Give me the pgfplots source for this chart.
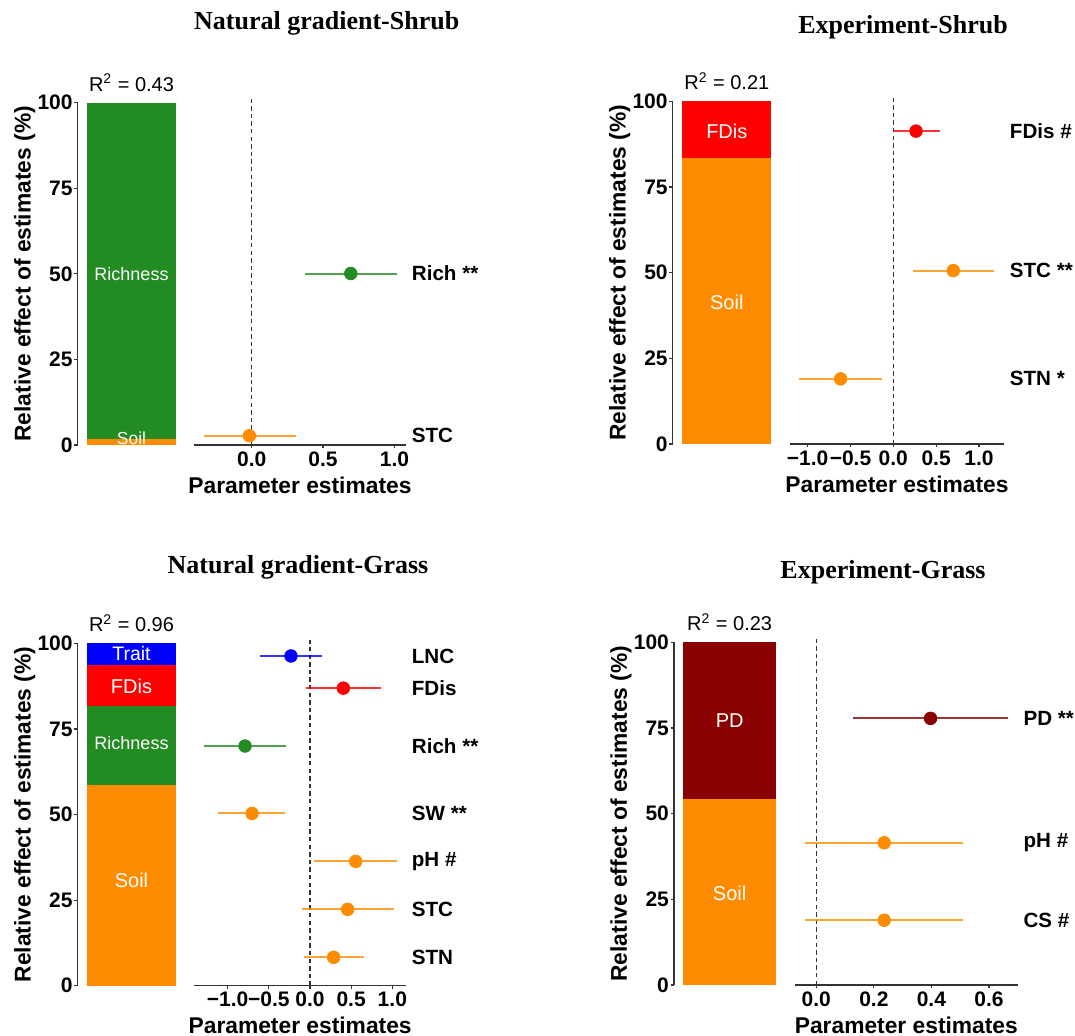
\documentclass[border=0pt]{standalone}
\usepackage{pgfplots}
\pgfplotsset{compat=1.18}
\usepackage{fontspec}
\setmainfont{Liberation Sans}
\newfontfamily\tnr{Liberation Serif}
\definecolor{cgreen}{HTML}{228B22}
\definecolor{corange}{HTML}{FF8C00}
\definecolor{cred}{HTML}{FF0000}
\definecolor{cblue}{HTML}{0000FF}
\definecolor{cdred}{HTML}{8B0000}
\definecolor{axc}{HTML}{333333}
\tikzset{
  inlab/.style={white, font=\fontsize{#1}{11}\selectfont},
  rsq/.style={font=\fontsize{10}{12}\selectfont, yshift=10pt},
}
\pgfplotsset{
  baraxis/.style={scale only axis, axis y line*=left, axis x line=none,
    xmin=0, xmax=1, ymin=0, ymax=100, ytick={0,25,50,75,100},
    yticklabels={0,25,50,75,100}, tick align=outside, major tick length=1.75pt,
    y axis line style={axc, line width=0.6pt}, tick style={axc, line width=0.6pt},
    yticklabel style={font=\bfseries\fontsize{10.5}{12}\selectfont, inner sep=0pt, xshift=-0.6pt},
    ybar stacked, clip=false,
    ylabel={Relative effect of estimates (\%)},
    ylabel style={font=\bfseries\fontsize{11.4}{13}\selectfont, at={(axis description cs:0,0.5)}, anchor=center, yshift=26.5pt}},
  forest/.style={scale only axis, ymin=0, ymax=100,
    axis x line*=bottom, axis y line*=right, y axis line style={draw=none},
    x axis line style={axc, line width=0.6pt}, tick align=outside, major tick length=1.5pt,
    tick style={axc, line width=0.6pt}, y tick style={draw=none},
    xticklabel style={font=\bfseries\fontsize{10.5}{12}\selectfont, inner sep=0pt, yshift=-1.5pt},
    yticklabel style={font=\bfseries\fontsize{10.3}{12}\selectfont, anchor=west, inner sep=0pt, xshift=1.25pt},
    xlabel={Parameter estimates},
    xlabel style={font=\bfseries\fontsize{11.4}{13}\selectfont, at={(axis description cs:0.5,0)}, anchor=center, yshift=-20pt},
    clip=false},
  pt/.style={only marks, mark=*, mark size=3.15pt, color=#1, mark options={fill=#1, draw=#1},
    error bars/.cd, x dir=both, x explicit, error mark=none,
    error bar style={line width=1pt, color=#1, opacity=0.8}},
  zero/.style={axc, line width=0.6pt, dash pattern=on 2.2pt off 1.6pt},
}
\begin{document}
\begin{tikzpicture}
\useasboundingbox (0,0) rectangle (537.5pt,-518pt);
% titles
\node[anchor=base, font=\tnr\bfseries\fontsize{13}{15}\selectfont] at (163.35pt,-14.65pt) {Natural gradient-Shrub};
\node[anchor=base, font=\tnr\bfseries\fontsize{13}{15}\selectfont] at (451.5pt,-16.65pt) {Experiment-Shrub};
\node[anchor=base, font=\tnr\bfseries\fontsize{13}{15}\selectfont] at (149pt,-286.65pt) {Natural gradient-Grass};
\node[anchor=base, font=\tnr\bfseries\fontsize{13}{15}\selectfont] at (441.5pt,-289.15pt) {Experiment-Grass};

% ===== Panel 1 =====
\begin{axis}[baraxis, at={(38.85pt,-222.5pt)}, anchor=south west, width=53.8pt, height=171.15pt, bar width=0.827,
  after end axis/.code={
    \node[inlab=9] at (axis cs:0.5,50) {Richness};
    \node[inlab=8.7] at (axis cs:0.5,1.9) {Soil};
    \node[rsq] at (axis cs:0.5,100) {R\textsuperscript{2} = 0.43};}]
\addplot[fill=corange, draw=none] coordinates {(0.5,1.75)};
\addplot[fill=cgreen, draw=none] coordinates {(0.5,98.25)};
\end{axis}
\begin{axis}[forest, at={(97pt,-222.5pt)}, anchor=south west, width=106pt, height=171.15pt,
  xmin=-0.404, xmax=1.081, xtick={0,0.5,1}, xticklabels={0.0,0.5,1.0},
  ytick={2.7,50.1}, yticklabels={STC,Rich **}]
\addplot[zero] coordinates {(0,0) (0,101)};
\addplot[pt=corange] coordinates {(-0.016,2.7) -= (0.318,0) += (0.324,0)};
\addplot[pt=cgreen] coordinates {(0.694,50.1) -= (0.323,0) += (0.322,0)};
\end{axis}

% ===== Panel 2 =====
\begin{axis}[baraxis, at={(336.35pt,-222pt)}, anchor=south west, width=54.1pt, height=171.35pt, bar width=0.823,
  after end axis/.code={
    \node[inlab=10] at (axis cs:0.5,91.3) {FDis};
    \node[inlab=10] at (axis cs:0.5,41.3) {Soil};
    \node[rsq] at (axis cs:0.5,100) {R\textsuperscript{2} = 0.21};}]
\addplot[fill=corange, draw=none] coordinates {(0.5,83.4)};
\addplot[fill=cred, draw=none] coordinates {(0.5,16.6)};
\end{axis}
\begin{axis}[forest, at={(395pt,-222pt)}, anchor=south west, width=107pt, height=171.35pt,
  xmin=-1.206, xmax=1.292, xtick={-1,-0.5,0,0.5,1}, xticklabels={−1.0,−0.5,0.0,0.5,1.0},
  ytick={19.0,50.6,91.3}, yticklabels={STN *,STC **,FDis \#}]
\addplot[zero] coordinates {(0,0) (0,101)};
\addplot[pt=cred] coordinates {(0.265,91.3) -= (0.273,0) += (0.280,0)};
\addplot[pt=corange] coordinates {(0.70,50.6) -= (0.467,0) += (0.479,0)};
\addplot[pt=corange] coordinates {(-0.615,19.0) -= (0.482,0) += (0.479,0)};
\end{axis}

% ===== Panel 3 =====
\begin{axis}[baraxis, at={(38.85pt,-492.85pt)}, anchor=south west, width=53.8pt, height=171.2pt, bar width=0.827,
  after end axis/.code={
    \node[inlab=9.75] at (axis cs:0.5,96.9) {Trait};
    \node[inlab=10] at (axis cs:0.5,87.5) {FDis};
    \node[inlab=9] at (axis cs:0.5,70.8) {Richness};
    \node[inlab=10] at (axis cs:0.5,30.7) {Soil};
    \node[rsq] at (axis cs:0.5,100) {R\textsuperscript{2} = 0.96};}]
\addplot[fill=corange, draw=none] coordinates {(0.5,58.6)};
\addplot[fill=cgreen, draw=none] coordinates {(0.5,23.2)};
\addplot[fill=cred, draw=none] coordinates {(0.5,11.8)};
\addplot[fill=cblue, draw=none] coordinates {(0.5,6.4)};
\end{axis}
\begin{axis}[forest, at={(97.15pt,-492.85pt)}, anchor=south west, width=105.85pt, height=171.2pt,
  xmin=-1.405, xmax=1.166, xtick={-1,-0.5,0,0.5,1}, xticklabels={−1.0,−0.5,0.0,0.5,1.0},
  ytick={8.3,22.3,36.3,50.3,70.0,86.9,96.3}, yticklabels={STN,STC,pH \#,SW **,Rich **,FDis,LNC}]
\addplot[zero] coordinates {(0,0) (0,101)};
\addplot[pt=cblue] coordinates {(-0.231,96.3) -= (0.376,0) += (0.381,0)};
\addplot[pt=cred] coordinates {(0.405,86.9) -= (0.454,0) += (0.453,0)};
\addplot[pt=cgreen] coordinates {(-0.789,70.0) -= (0.498,0) += (0.493,0)};
\addplot[pt=corange] coordinates {(-0.704,50.3) -= (0.413,0) += (0.400,0)};
\addplot[pt=corange] coordinates {(0.555,36.3) -= (0.510,0) += (0.498,0)};
\addplot[pt=corange] coordinates {(0.457,22.3) -= (0.558,0) += (0.563,0)};
\addplot[pt=corange] coordinates {(0.287,8.3) -= (0.360,0) += (0.369,0)};
\end{axis}

% ===== Panel 4 =====
\begin{axis}[baraxis, at={(337pt,-492.5pt)}, anchor=south west, width=55.65pt, height=171.35pt, bar width=0.833,
  after end axis/.code={
    \node[inlab=10] at (axis cs:0.5,77.1) {PD};
    \node[inlab=10] at (axis cs:0.5,26.8) {Soil};
    \node[rsq] at (axis cs:0.5,100) {R\textsuperscript{2} = 0.23};}]
\addplot[fill=corange, draw=none] coordinates {(0.5,54.4)};
\addplot[fill=cdred, draw=none] coordinates {(0.5,45.6)};
\end{axis}
\begin{axis}[forest, at={(397.5pt,-492.5pt)}, anchor=south west, width=111.35pt, height=171.35pt,
  xmin=-0.074, xmax=0.700, xtick={0,0.2,0.4,0.6}, xticklabels={0.0,0.2,0.4,0.6},
  ytick={18.9,41.5,77.8}, yticklabels={CS \#,pH \#,PD **}]
\addplot[zero] coordinates {(0,0) (0,101)};
\addplot[pt=cdred] coordinates {(0.397,77.8) -= (0.268,0) += (0.270,0)};
\addplot[pt=corange] coordinates {(0.236,41.5) -= (0.274,0) += (0.275,0)};
\addplot[pt=corange] coordinates {(0.236,18.9) -= (0.274,0) += (0.275,0)};
\end{axis}
\end{tikzpicture}
\end{document}
